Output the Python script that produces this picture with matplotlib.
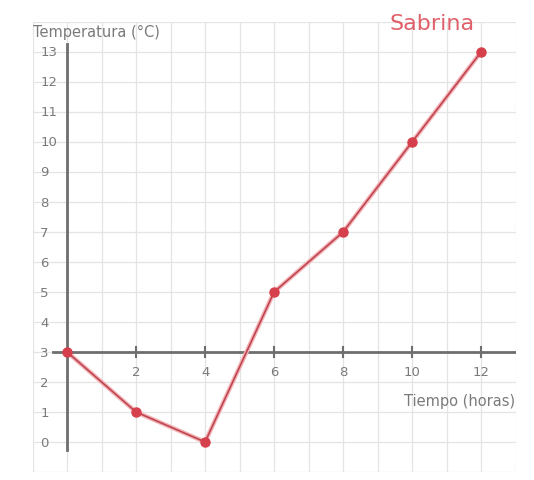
import matplotlib.pyplot as plt

# Temperatura de Sabrina
horas = [0, 2, 4, 6, 8, 10, 12]
temperatura = [3, 1, 0, 5, 7, 10, 13]
x_ticks = [2, 4, 6, 8, 10, 12]
y_ticks = list(range(0, 14))

gray = '#7a7a7a'
red = '#d6404c'

fig = plt.figure(figsize=(5.34, 4.81), dpi=100)
fig.patch.set_facecolor('white')
ax = fig.add_axes([0.061, 0.0166, 0.9045, 0.9356])
ax.set_xlim(-1, 13)
ax.set_ylim(-1, 14)
for s in ax.spines.values():
    s.set_visible(False)
ax.set_xticks([])
ax.set_yticks([])

# light grid
for gx in range(-1, 14):
    ax.axvline(gx, color='#e4e4e4', lw=0.9, zorder=0)
for gy in range(-1, 15):
    ax.axhline(gy, color='#e4e4e4', lw=0.9, zorder=0)

# axes drawn at x=0 and y=3
ax.plot([0, 0], [-0.25, 13.25], color='#6e6e6e', lw=2, zorder=2)
ax.plot([-0.4, 13], [3, 3], color='#6e6e6e', lw=2, zorder=2)
for xt in x_ticks:
    ax.plot([xt, xt], [2.82, 3.18], color='#6e6e6e', lw=1.5, zorder=2)
    ax.text(xt, 2.35, str(xt), ha='center', va='center', fontsize=9.5, color=gray)
for yt in y_ticks:
    ax.text(-0.78, yt, str(yt), ha='left', va='center', fontsize=9.5, color=gray)

# data
ax.plot(horas, temperatura, color='#f3b4b8', lw=3.2, zorder=3, solid_capstyle='round')
ax.plot(horas, temperatura, color='#bf4550', lw=1.2, zorder=4)
ax.plot(horas, temperatura, 'o', color=red, markersize=6.5, zorder=5)

ax.text(-0.98, 13.7, 'Temperatura (°C)', ha='left', va='center', fontsize=10.5, color=gray)
ax.text(9.35, 13.95, 'Sabrina', ha='left', va='center', fontsize=16, color='#e0606a')
ax.text(13.0, 1.4, 'Tiempo (horas)', ha='right', va='center', fontsize=10.5, color=gray)

fig.savefig('out.png', dpi=100)
